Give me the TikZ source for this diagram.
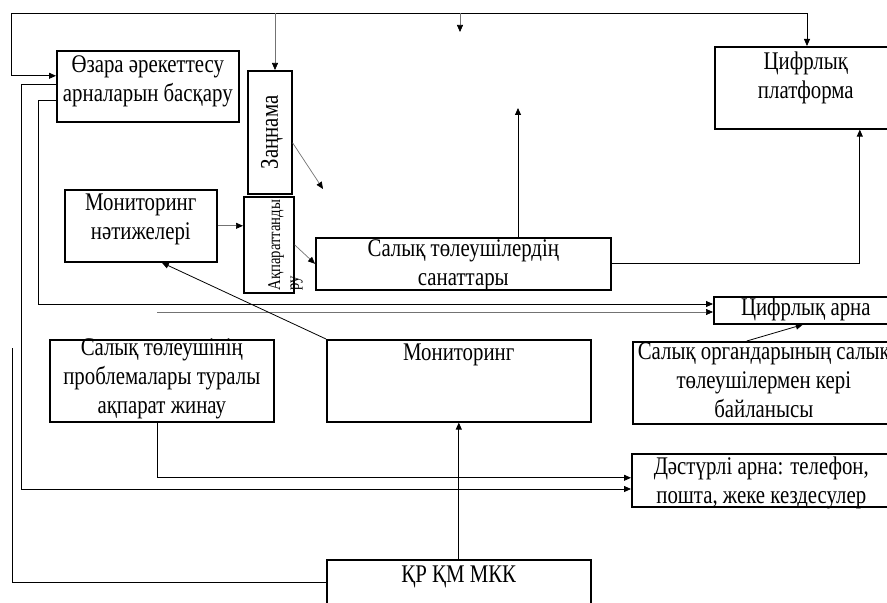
\documentclass[tikz,border=0pt]{standalone}
\usepackage{fontspec}
\setmainfont{Liberation Serif}[FakeStretch=0.82]
\usetikzlibrary{arrows.meta}
\newcommand{\boxfont}{\fontsize{25.5}{29}\selectfont}
\newcommand{\smallboxfont}{\fontsize{18}{19}\selectfont}

\begin{document}
\begin{tikzpicture}[
  x=1bp,
  y=-1bp,
  every node/.style={font=\boxfont, inner sep=0pt},
  box/.style={draw, line width=1.6bp, anchor=north west},
  txt/.style={anchor=north, align=center, execute at begin node=\strut},
  conn/.style={line width=0.8bp},
  connlight/.style={line width=0.7bp, black!55},
  arr/.style={conn, -{Triangle[length=7bp, width=6bp]}},
  arrlight/.style={connlight, -{Triangle[length=7bp, width=6bp, black]}}
]
  \path[use as bounding box, clip] (0,0) rectangle (887,603);

  %% ---- блоктар ----------------------------------------------------------
  \node[box, minimum width=182bp, minimum height=71bp] (ozara) at (56,50) {};
  \node[box, minimum width=44bp, minimum height=123bp] (zannama) at (247,70) {};
  \node[box, minimum width=50bp, minimum height=96bp] (akparat) at (243,196) {};
  \node[box, minimum width=152bp, minimum height=72bp] (monnat) at (64,189) {};
  \node[box, minimum width=295bp, minimum height=52bp] (sanat) at (315,237) {};
  \node[box, minimum width=182bp, minimum height=82bp] (platf) at (714,46) {};
  \node[box, minimum width=184bp, minimum height=27bp] (darna) at (713,296) {};
  \node[box, minimum width=262bp, minimum height=82bp] (keri) at (632,341) {};
  \node[box, minimum width=224bp, minimum height=82bp] (problem) at (49,339) {};
  \node[box, minimum width=264bp, minimum height=82bp] (monitor) at (326,339) {};
  \node[box, minimum width=259bp, minimum height=53bp] (dastur) at (631,453) {};
  \node[box, minimum width=264bp, minimum height=80bp] (krkm) at (326,559) {};

  %% ---- мәтіндер ---------------------------------------------------------
  \node[txt] (ozara-t) at ([yshift=-5.6bp]ozara.north) {Өзара әрекеттесу\\арналарын басқару};
  \node[txt] (monnat-t) at ([yshift=-4.6bp]monnat.north) {Мониторинг\\нәтижелері};
  \node[txt] (sanat-t) at ([yshift=-2.6bp]sanat.north) {Салық төлеушілердің\\санаттары};
  \node[txt] (platf-t) at ([yshift=-5.6bp]platf.north) {Цифрлық\\платформа};
  \node[txt] (darna-t) at ([yshift=1.4bp]darna.north) {Цифрлық арна};
  \node[txt] (keri-t) at ([yshift=-1.6bp]keri.north) {Салық органдарының салық\\төлеушілермен кері\\байланысы};
  \node[txt] (problem-t) at ([yshift=0.4bp]problem.north) {Салық төлеушінің\\проблемалары туралы\\ақпарат жинау};
  \node[txt] (monitor-t) at ([yshift=-0.6bp]monitor.north) {Мониторинг};
  \node[txt] (dastur-t) at ([yshift=-3.6bp]dastur.north) {Дәстүрлі арна: телефон,\\пошта, жеке кездесулер};
  \node[txt] (krkm-t) at ([yshift=-2.6bp]krkm.north) {ҚР ҚМ МКК};
  \node[rotate=90] (zannama-t) at ([xshift=2bp]zannama.center) {Заңнама};
  \node[rotate=90, anchor=north west, align=left, font=\smallboxfont] (akparat-t)
    at ([xshift=25bp, yshift=3bp]akparat.south west) {Ақпараттанды\\ру};

  %% ---- жоғарғы сызық ----------------------------------------------------
  \coordinate (top-l) at (11,13);
  \coordinate (top-r) at (807,13);
  \coordinate (top-z) at (275,13);
  \coordinate (top-m) at (460,13);
  \coordinate (stub) at (460,32);
  \draw[conn, {Triangle[length=7bp, width=6bp]}-{Triangle[length=7bp, width=6bp]}]
    ([yshift=10.5bp]ozara.west) -| (top-l) -- (top-r) -- (top-r |- platf.north);
  \draw[arrlight] (top-z) -- (top-z |- zannama.north);
  \draw[arrlight] (top-m) -- (stub);

  %% ---- сол жақ сызықтар -------------------------------------------------
  \coordinate (left-a) at (21,489);
  \coordinate (left-b) at (38,304);
  \coordinate (left-c) at (12,348);
  \coordinate (left-d) at (12,582);
  \coordinate (mid-g) at (157,312);
  \draw[arr] ([yshift=1.5bp]ozara.west) -| (left-a) -- (left-a -| dastur.west);
  \draw[arr] ([yshift=-14.5bp]ozara.west) -| (left-b) -- (left-b -| darna.west);
  \draw[arrlight] (mid-g) -- (mid-g -| darna.west);
  \draw[conn] (left-c) -- (left-d) -- (left-d -| krkm.west);
  \draw[arr] ([xshift=-4bp]problem.south) |- ([yshift=2.5bp]dastur.west);

  %% ---- ортадағы байланыстар ---------------------------------------------
  \coordinate (z-end) at (323,189);
  \coordinate (s-up) at (518,108);
  \draw[arr] (krkm.north) -- (monitor.south);
  \draw[arr] (monitor.north west) -- ([xshift=21bp]monnat.south);
  \draw[arrlight] (monnat.east) -- (monnat.east -| akparat.west);
  \draw[arrlight] ([yshift=-10.5bp]zannama.east) -- (z-end);
  \draw[arrlight] (akparat.east) -- (sanat.west);
  \draw[arr] (s-up |- sanat.north) -- (s-up);
  \draw[arr] (sanat.east) -| ([xshift=54bp]platf.south);
  \draw[arr] ([xshift=-17bp]keri.north) -- ([xshift=-3bp]darna.south);
\end{tikzpicture}
\end{document}
